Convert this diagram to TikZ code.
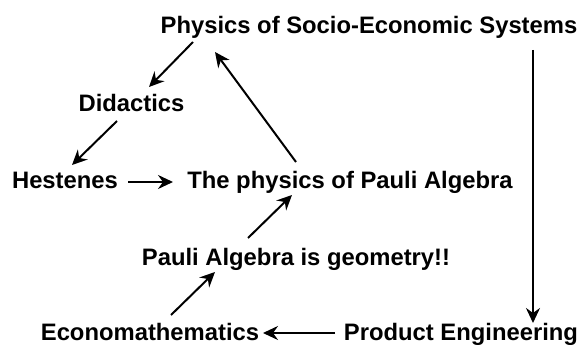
\documentclass[tikz,border=0pt]{standalone}
\usepackage{fontspec}
\setmainfont{Liberation Sans}
\usetikzlibrary{calc,arrows.meta}
\begin{document}
\begin{tikzpicture}[x=1pt,y=-1pt,
  lbl/.style={inner sep=0pt,anchor=base,font=\fontsize{23.8}{28}\selectfont\bfseries},
  arr/.style={line width=2pt,-{Stealth[length=15pt,width=14pt,inset=5pt]}}]
\useasboundingbox (0,0) rectangle (587,345);
\node[lbl] (phys) at (369,34) {Physics of Socio-Economic Systems};
\node[lbl] (did) at (131.5,111) {Didactics};
\node[lbl] (hest) at (65,188) {Hestenes};
\node[lbl] (phyP) at (350,188) {The physics of Pauli Algebra};
\node[lbl] (pauli) at (296,265) {Pauli Algebra is geometry!!};
\node[lbl] (econ) at (150,340) {Economathematics};
\node[lbl] (prod) at (461,340) {Product Engineering};
\draw[arr] ($(phys.base)+(-176,8)$) -- ($(did.base)+(17.5,-24)$);
\draw[arr] ($(did.base)+(-14.5,10)$) -- ($(hest.base)+(7,-23)$);
\draw[arr] ($(hest.base)+(63,-6)$) -- ($(phyP.base)+(-177,-6)$);
\draw[arr] ($(phyP.base)+(-54,-26)$) -- ($(phys.base)+(-154,18)$);
\draw[arr] ($(pauli.base)+(-48,-27)$) -- ($(phyP.base)+(-58,7)$);
\draw[arr] ($(econ.base)+(21,-25)$) -- ($(pauli.base)+(-81,7)$);
\draw[arr] ($(phys.base)+(164,16)$) -- ($(prod.base)+(72,-17)$);
\draw[arr] ($(prod.base)+(-126,-7)$) -- ($(econ.base)+(113,-7)$);
\end{tikzpicture}
\end{document}
